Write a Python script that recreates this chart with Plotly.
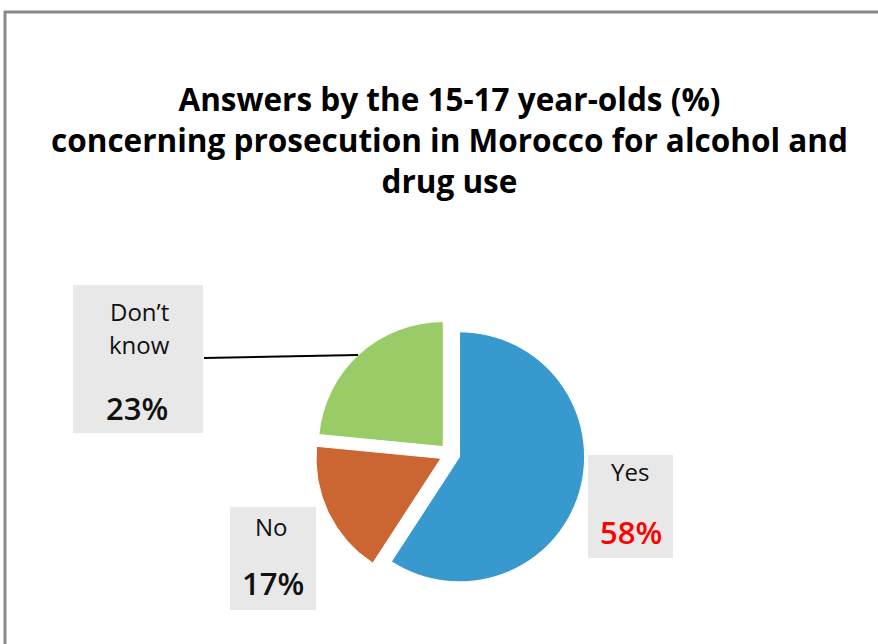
import plotly.graph_objects as go

W, H = 878, 644

# Survey answers (%)
labels = ["Yes", "No", "Don\u2019t know"]
values = [58, 17, 23]
colors = ["#3799CE", "#CB6632", "#99CC66"]

title_lines = [
    "Answers by the 15-17 year-olds (%)",
    "concerning prosecution in Morocco for alcohol and",
    "drug use",
]


def px_x(x):
    return x / W


def px_y(y):
    return 1 - y / H


# Pie domain: centre (450, 454) px, outer box 270 px
cx, cy, half = 450, 454, 135

fig = go.Figure(
    go.Pie(
        labels=labels,
        values=values,
        sort=False,
        direction="clockwise",
        rotation=0,
        pull=[0.08, 0.08, 0.08],
        marker=dict(colors=colors, line=dict(color="white", width=1)),
        textinfo="none",
        hoverinfo="label+percent",
        showlegend=False,
        domain=dict(
            x=[px_x(cx - half), px_x(cx + half)],
            y=[px_y(cy + half), px_y(cy - half)],
        ),
    )
)

shapes = [
    # outer frame
    dict(type="rect", xref="paper", yref="paper",
         x0=px_x(5), x1=px_x(W + 20), y0=px_y(H + 20), y1=px_y(12),
         line=dict(color="#8a8a8a", width=3), fillcolor="rgba(0,0,0,0)"),
]

# grey label boxes: (x0, y0, x1, y1) in px
boxes = [(73, 285, 203, 433), (588, 455, 673, 558), (230, 507, 316, 610)]
for x0, y0, x1, y1 in boxes:
    shapes.append(dict(type="rect", xref="paper", yref="paper",
                       x0=px_x(x0), x1=px_x(x1), y0=px_y(y1), y1=px_y(y0),
                       line=dict(width=0), fillcolor="#E8E8E8", layer="below"))

# leader line for "Don't know"
shapes.append(dict(type="line", xref="paper", yref="paper",
                   x0=px_x(204), y0=px_y(358), x1=px_x(358), y1=px_y(355),
                   line=dict(color="black", width=2)))

annotations = [dict(
    text="<b>" + "<br>".join(title_lines) + "</b>",
    x=px_x(449), y=px_y(140), xref="paper", yref="paper", showarrow=False,
    xanchor="center", yanchor="middle", align="center",
    font=dict(family="Open Sans", size=31.5, color="black"))]

label_font = dict(family="Open Sans", size=24, color="#111111")
pct_font = dict(family="Open Sans", size=31, color="#111111", weight=600)


def add_text(txt, x, y, font):
    annotations.append(dict(text=txt, x=px_x(x), y=px_y(y), xref="paper",
                            yref="paper", showarrow=False, xanchor="center",
                            yanchor="middle", font=font))


add_text("Don\u2019t", 139, 311, label_font)
add_text("know", 139, 344, label_font)
add_text(f"{values[2]}%", 137, 408, pct_font)
add_text("Yes", 630, 471, label_font)
add_text(f"{values[0]}%", 631, 532, dict(pct_font, color="#FF0000"))
add_text("No", 271, 526, label_font)
add_text(f"{values[1]}%", 273, 583, pct_font)

fig.update_layout(
    width=W, height=H,
    margin=dict(l=0, r=0, t=0, b=0),
    paper_bgcolor="white",
    plot_bgcolor="white",
    shapes=shapes,
    annotations=annotations,
)

fig.write_html("out.html")
